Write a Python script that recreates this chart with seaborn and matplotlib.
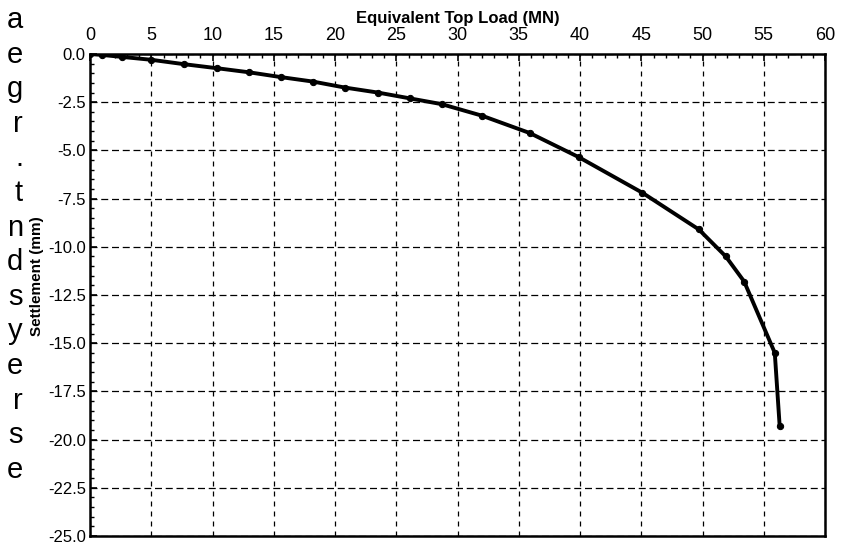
import matplotlib
matplotlib.use("Agg")
import matplotlib.pyplot as plt
import numpy as np
import pandas as pd
import seaborn as sns
from matplotlib.ticker import MultipleLocator, FormatStrFormatter

# Load-settlement curve (equivalent top load vs. pile-head settlement)
load_mn = [0.0, 1.0, 2.6, 5.0, 7.7, 10.4, 13.0, 15.6, 18.2, 20.8, 23.5, 26.1,
           28.7, 32.0, 35.9, 39.9, 45.1, 49.7, 51.9, 53.4, 55.9, 56.3]
settlement_mm = [0.0, -0.05, -0.15, -0.30, -0.53, -0.74, -0.95, -1.20, -1.43,
                 -1.74, -2.00, -2.30, -2.60, -3.20, -4.10, -5.35, -7.20, -9.10,
                 -10.50, -11.80, -15.50, -19.30]

x_ticks = list(range(0, 61, 5))
y_ticks = [-25.0, -22.5, -20.0, -17.5, -15.0, -12.5, -10.0, -7.5, -5.0, -2.5, 0.0]

# Fragments of the neighbouring column of body text
margin_letters = ["a", "e", "g", "r", ".", "t", "n", "d", "s", "y", "e", "r", "s", "e"]

df = pd.DataFrame({"load": load_mn, "settlement": settlement_mm})

sns.set_theme(style="ticks")
plt.rcParams["font.family"] = ["Liberation Sans", "DejaVu Sans"]

fig = plt.figure(figsize=(8.41, 5.46), dpi=100)
ax = fig.add_axes([90 / 841, 10 / 546, 735 / 841, 482 / 546])

sns.lineplot(data=df, x="load", y="settlement", ax=ax, sort=False,
             estimator=None, color="black", linewidth=2.8, marker="o",
             markersize=4.5, markeredgecolor="black", markerfacecolor="black")

ax.set_xlim(0, 60)
ax.set_ylim(-25, 0)
ax.set_xticks(x_ticks)
ax.set_yticks(y_ticks)
ax.xaxis.set_minor_locator(MultipleLocator(1))
ax.yaxis.set_minor_locator(MultipleLocator(0.5))
ax.yaxis.set_major_formatter(FormatStrFormatter("%.1f"))

ax.xaxis.set_ticks_position("top")
ax.xaxis.set_label_position("top")
ax.tick_params(axis="both", which="major", direction="in", length=5, width=1.2,
               color="black", labelcolor="black")
ax.tick_params(axis="both", which="minor", direction="in", length=3, width=1,
               color="black")
ax.tick_params(axis="x", which="major", pad=7.5, labelsize=13, top=True, bottom=False)
ax.tick_params(axis="x", which="minor", top=True, bottom=False)
ax.tick_params(axis="y", which="major", pad=3, labelsize=12)

# Dashed reference grid: long dashes across, shorter dashes down
ax.yaxis.grid(True, which="major", color="black", linestyle=(0, (5.6, 3.0)),
              linewidth=0.9)
ax.xaxis.grid(True, which="major", color="black", linestyle=(0, (4.0, 4.0)),
              linewidth=0.9)

for side in ["left", "right", "top", "bottom"]:
    ax.spines[side].set_visible(True)
    ax.spines[side].set_color("black")
    ax.spines[side].set_linewidth(1.8)

ax.set_xlabel("Equivalent Top Load (MN)", fontsize=12, fontweight="bold",
              labelpad=2.5, color="black")
ax.set_ylabel("Settlement (mm)", fontsize=11, fontweight="bold", color="black")
ax.yaxis.set_label_coords(-0.062, 0.54)

for i, ch in enumerate(margin_letters):
    fig.text(23 / 841, 1 - (20 + i * 34.6) / 546, ch, fontsize=21, ha="right",
             va="center", color="black")

fig.savefig("out.png", dpi=100, facecolor="white")
